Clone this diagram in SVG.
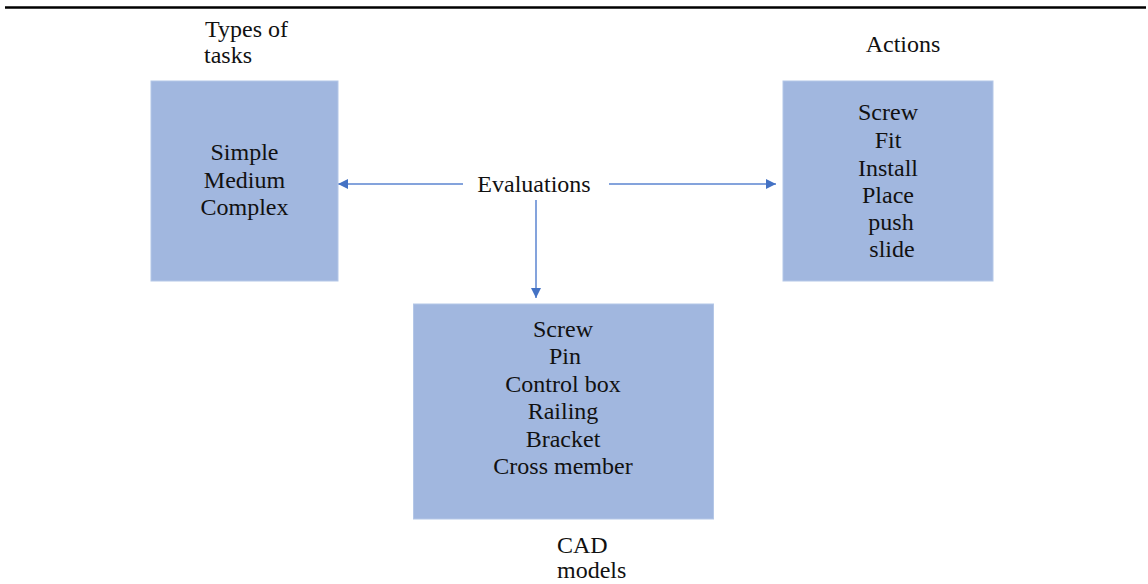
<svg xmlns="http://www.w3.org/2000/svg" width="1148" height="584" viewBox="0 0 1148 584">
<style>
text{font-family:"Liberation Serif","Times New Roman",serif;font-size:24px;fill:#111111}
.c{text-anchor:middle}
.box{fill:#A1B7DF;stroke:#B4C7E7;stroke-width:1}
.conn{stroke:#5B85D0;stroke-width:1.5;fill:none;marker-end:url(#ah)}
</style>
<defs>
<marker id="ah" viewBox="0 0 10 10" refX="10" refY="5" markerWidth="10" markerHeight="11" orient="auto" markerUnits="userSpaceOnUse">
<path d="M0,0 L10,5 L0,10 Z" fill="#4472C4"/>
</marker>
</defs>
<rect width="1148" height="584" fill="#ffffff"/>
<line x1="5" y1="7.5" x2="1146" y2="7.5" stroke="#000" stroke-width="2.5"/>
<g id="connectors">
<line class="conn" x1="463" y1="184" x2="338" y2="184"/>
<line class="conn" x1="609" y1="184" x2="776" y2="184"/>
<line class="conn" x1="536" y1="200" x2="536" y2="298"/>
</g>
<g id="evaluations">
<text class="c" x="534" y="192">Evaluations</text>
</g>
<g id="types-of-tasks">
<text x="205" y="37">Types of</text>
<text x="204" y="63">tasks</text>
<rect class="box" x="151" y="81" width="187" height="200"/>
<text class="c" x="244.5" y="160">Simple</text>
<text class="c" x="244.5" y="188">Medium</text>
<text class="c" x="244.5" y="215">Complex</text>
</g>
<g id="actions">
<text class="c" x="903" y="52">Actions</text>
<rect class="box" x="783" y="81" width="210" height="200"/>
<text class="c" x="888" y="120">Screw</text>
<text class="c" x="888" y="148">Fit</text>
<text class="c" x="888" y="176">Install</text>
<text class="c" x="888" y="203">Place</text>
<text class="c" x="891" y="230">push</text>
<text class="c" x="892" y="257">slide</text>
</g>
<g id="cad-models">
<rect class="box" x="413.5" y="304" width="300" height="215"/>
<text class="c" x="563" y="337">Screw</text>
<text class="c" x="565" y="364">Pin</text>
<text class="c" x="563" y="392">Control box</text>
<text class="c" x="563" y="419">Railing</text>
<text class="c" x="563" y="447">Bracket</text>
<text class="c" x="563" y="474">Cross member</text>
<text x="557" y="553">CAD</text>
<text x="557" y="578">models</text>
</g>
</svg>
